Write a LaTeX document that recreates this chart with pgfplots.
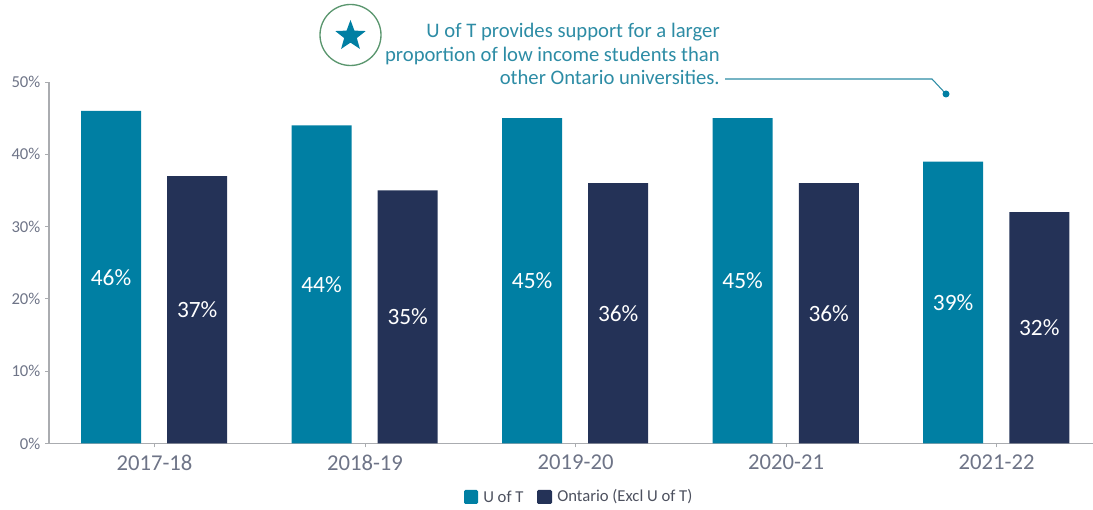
\documentclass[border=0pt]{standalone}
\usepackage{pgfplots}
\pgfplotsset{compat=1.18}
\usepackage{fontspec}
\setmainfont{Carlito}
\usetikzlibrary{shapes.geometric}
\definecolor{uoft}{RGB}{0,127,163}
\definecolor{ontario}{RGB}{36,50,87}
\definecolor{axisgrey}{RGB}{170,172,176}
\definecolor{ticktext}{RGB}{110,116,135}
\definecolor{calltext}{RGB}{45,140,165}
\definecolor{ringgreen}{RGB}{90,150,110}
\begin{document}
\begin{tikzpicture}[x=0.75pt,y=0.75pt]
\useasboundingbox (0,0) rectangle (1093,510);
\begin{axis}[
    name=main,
    at={(115.875pt,49.875pt)},
    anchor=origin,
    scale only axis,
    width=783pt,
    height=271.1pt,
    xmin=-0.501, xmax=4.458,
    ymin=0, ymax=50,
    clip=false,
    axis x line*=bottom,
    axis y line*=left,
    axis line style={axisgrey,line width=1pt,-},
    xtick=data,
    xticklabels={2017-18,2018-19,2019-20,2020-21,2021-22},
    x tick label style={font=\fontsize{17}{20}\selectfont,text=ticktext,yshift=-2pt},
    ytick={0,10,20,30,40,50},
    yticklabel={\pgfmathprintnumber{\tick}\%},
    /pgf/number format/assume math mode=true,
    y tick label style={font=\fontsize{12.5}{15}\selectfont,text=ticktext},
    tick style={axisgrey,line width=0.7pt},
    major tick length=3pt,
    tick align=outside,
    ybar=0pt,
    visualization depends on={y \as \rawy},
    nodes near coords={\pgfmathprintnumber{\pgfplotspointmeta}\%},
    nodes near coords style={anchor=center,text=white,font=\fontsize{17.5}{20}\selectfont,
        shift={(axis direction cs:0,-\rawy/2)}},
]
% bars are 60px wide, about 43px either side of the group centre
\addplot[draw=none,fill=uoft,bar width=45pt,bar shift=-32.6pt]
    coordinates {(0,46) (1,44) (2,45) (3,45) (4,39)};
\addplot[draw=none,fill=ontario,bar width=45pt,bar shift=32pt]
    coordinates {(0,37) (1,35) (2,36) (3,36) (4,32)};
\end{axis}
% callout
\node[anchor=north east,align=right,text=calltext,font=\fontsize{15.5}{17.6}\selectfont,inner sep=0pt]
    at (720,487) {U of T provides support for a larger\\proportion of low income students than\\other Ontario universities.};
\draw[calltext,line width=0.8pt] (725,431) -- (932,431) -- (946,416);
\fill[uoft] (946,416) circle (3.5);
\draw[ringgreen,line width=1pt] (350.5,475) circle (30.5);
\node[star,star points=5,star point ratio=2.4,fill=uoft,draw=none,minimum size=24pt,inner sep=0pt] at (350.5,474) {};
% legend
\fill[uoft,rounded corners=1pt] (464,6) rectangle (478,20);
\node[anchor=west,text=ticktext!70!black,font=\fontsize{12.5}{14}\selectfont,inner sep=0pt] at (483,13) {U of T};
\fill[ontario,rounded corners=1pt] (537,6) rectangle (552,20);
\node[anchor=west,text=ticktext!70!black,font=\fontsize{12.5}{14}\selectfont,inner sep=0pt] at (557,13) {Ontario (Excl U of T)};
\end{tikzpicture}
\end{document}
